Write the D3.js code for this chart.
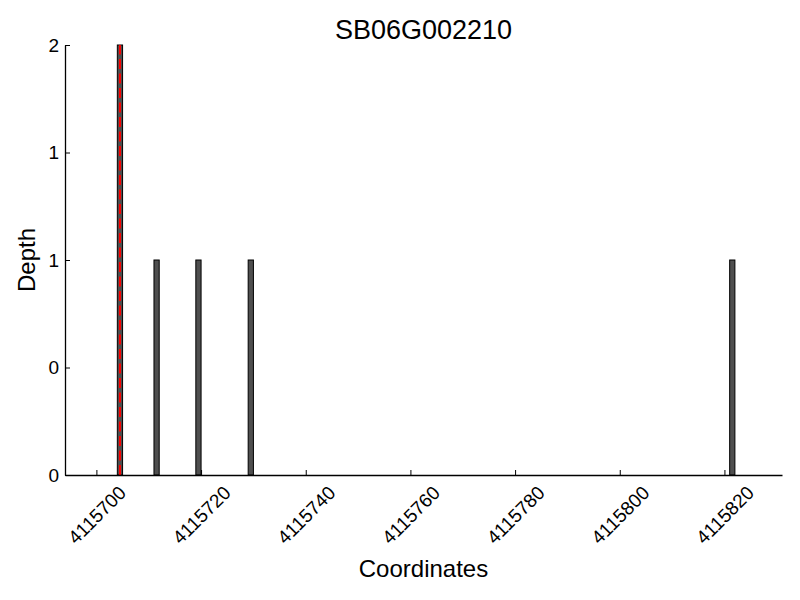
<!DOCTYPE html>
<html>
<head>
<meta charset="utf-8">
<script src="https://cdn.jsdelivr.net/npm/d3@7"></script>
<style>
  body{margin:0;background:#fff;}
  text{font-family:"Liberation Sans",Arial,sans-serif;fill:#000;}
</style>
</head>
<body>
<svg id="chart" width="800" height="600"></svg>
<script>
// coverage bins (start coordinate, 1bp wide) and read depth
const binStarts=[4115704,4115711,4115719,4115729,4115821];
const depths=[2,1,1,1,1];
const markerPos=4115704.5;
const xTicks=[4115700,4115720,4115740,4115760,4115780,4115800,4115820];
const yTicks=[0,0.5,1,1.5,2];
const title="SB06G002210";

const svg=d3.select("#chart");
const m={left:65,right:18,top:45,bottom:125};
const W=800, H=600;

const x=d3.scaleLinear().domain([4115694,4115831]).range([m.left,W-m.right]);
const y=d3.scaleLinear().domain([0,2]).range([H-m.bottom,m.top]);

// bars
svg.append("g").selectAll("rect").data(binStarts).join("rect")
  .attr("x",d=>x(d)).attr("width",d=>x(d+1)-x(d))
  .attr("y",(d,i)=>y(depths[i])).attr("height",(d,i)=>y(0)-y(depths[i]))
  .attr("fill","#4f4f4f").attr("stroke","#000").attr("stroke-width",1);

// marker line
svg.append("line")
  .attr("x1",x(markerPos)).attr("x2",x(markerPos))
  .attr("y1",y(0)).attr("y2",y(2))
  .attr("stroke","red").attr("stroke-width",2).attr("stroke-dasharray","10,4.5");

// axes (ticks pointing inward)
const xAxis=d3.axisBottom(x).tickValues(xTicks).tickFormat(d3.format("d")).tickSizeInner(-5).tickSizeOuter(0);
const gx=svg.append("g").attr("transform",`translate(0,${y(0)})`).call(xAxis);
gx.attr("font-size",null);
gx.select(".domain").attr("stroke-width",1.3);
gx.selectAll(".tick text")
  .style("font-size","19px").attr("dy","0.35em").attr("y",0)
  .attr("text-anchor","middle")
  .attr("transform","translate(0,40) rotate(-45)");

const yAxis=d3.axisLeft(y).tickValues(yTicks).tickFormat(d=>Math.floor(d)).tickSizeInner(-5).tickSizeOuter(0);
const gy=svg.append("g").attr("transform",`translate(${m.left},0)`).call(yAxis);
gy.attr("font-size",null);
gy.select(".domain").attr("stroke-width",1.3);
gy.selectAll(".tick text").style("font-size","19px").attr("x",-6);

// labels
svg.append("text").attr("x",(m.left+W-m.right)/2).attr("y",39)
  .attr("text-anchor","middle").style("font-size","27px").text(title);
svg.append("text").attr("x",(m.left+W-m.right)/2).attr("y",577)
  .attr("text-anchor","middle").style("font-size","24px").text("Coordinates");
svg.append("text").attr("transform",`translate(35,${(m.top+H-m.bottom)/2}) rotate(-90)`)
  .attr("text-anchor","middle").style("font-size","24px").text("Depth");
</script>
</body>
</html>
